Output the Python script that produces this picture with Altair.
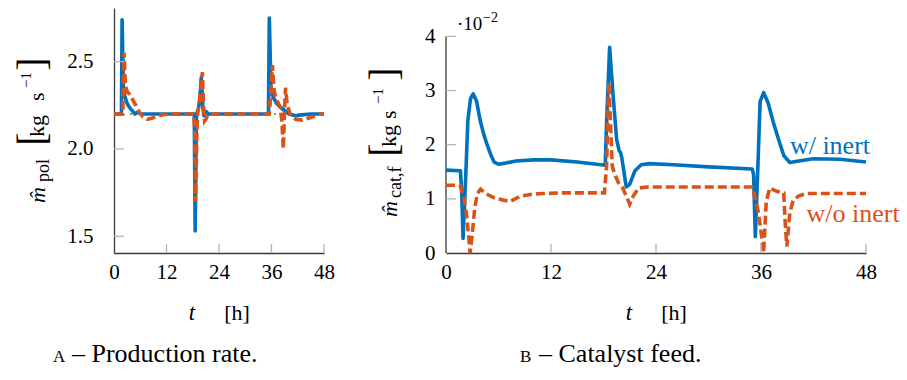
import altair as alt
import pandas as pd

FONT = "Liberation Serif"
BLUE = "#0072BD"
ORANGE = "#D95319"
GREEN = "#77AC30"
AXIS_COLOR = "#3a3a3a"
TICK_COLOR = "#b4b4b4"

# ---------------- panel A: production rate [kg/s] ----------------
pol_t_inert = [0, 1.7, 1.85, 2.15, 2.5, 3.0, 3.6, 4.3, 4.8, 5.4, 6.2, 18.35, 18.55,
               18.85, 19.3, 19.6, 19.95, 20.3, 20.55, 21.0, 21.6, 35.3, 35.5, 35.9,
               36.5, 37.2, 38.0, 39.0, 40.0, 41.5, 43.0, 45.0, 48.0]
pol_inert = [2.2, 2.2, 2.74, 2.34, 2.30, 2.26, 2.235, 2.215, 2.20, 2.21, 2.20, 2.2, 1.53,
             2.20, 2.23, 2.28, 2.41, 2.24, 2.19, 2.215, 2.20, 2.2, 2.75, 2.33,
             2.29, 2.26, 2.24, 2.22, 2.20, 2.19, 2.195, 2.2, 2.2]

pol_t_noinert = [0, 2.0, 2.3, 2.6, 3.0, 3.6, 4.3, 5.0, 5.8, 6.6, 7.6, 8.6, 10.0, 12.0,
                 18.3, 18.45, 18.65, 18.9, 19.1, 19.5, 19.9, 20.2, 20.45, 20.7, 21.0, 21.5,
                 35.5, 35.8, 36.2, 36.6, 37.2, 38.0, 38.4, 38.7, 38.95, 39.2, 39.6, 40.3,
                 41.5, 43.0, 45.0, 47.0, 48.0]
pol_noinert = [2.2, 2.2, 2.55, 2.36, 2.33, 2.31, 2.28, 2.25, 2.21, 2.185, 2.17, 2.175, 2.19, 2.2,
               2.2, 2.1, 1.70, 2.05, 2.2, 2.27, 2.36, 2.44, 2.25, 2.16, 2.17, 2.2,
               2.2, 2.3, 2.48, 2.33, 2.28, 2.24, 2.15, 2.0, 2.2, 2.35, 2.25, 2.2,
               2.17, 2.165, 2.18, 2.2, 2.2]

pol_setpoint = 2.2

# ---------------- panel B: catalyst feed [1e-2 kg/s] ----------------
cat_t_inert = [0, 1.65, 1.8, 1.95, 2.2, 2.5, 2.8, 3.1, 3.5, 3.9, 4.3, 4.7, 5.1, 5.5, 6.0,
               6.8, 8.0, 10.0, 12.0, 15.0, 18.2, 18.35, 18.7, 19.1, 19.5, 19.8, 19.95,
               20.1, 20.6, 21.0, 21.6, 22.3, 23.2, 26.0, 30.0, 35.0, 35.15, 35.35, 35.6,
               35.9, 36.3, 36.8, 37.4, 38.0, 38.6, 39.3, 40.3, 42.0, 45.0, 48.0]
cat_inert = [1.53, 1.52, 1.1, 0.27, 1.2, 2.45, 2.85, 2.94, 2.8, 2.45, 2.2, 2.0, 1.82, 1.68, 1.64,
             1.66, 1.70, 1.72, 1.72, 1.68, 1.62, 2.4, 3.8, 2.9, 2.1, 1.88, 1.86,
             1.75, 1.22, 1.27, 1.52, 1.63, 1.65, 1.63, 1.59, 1.55, 1.45, 0.3, 1.4,
             2.8, 2.96, 2.78, 2.42, 2.1, 1.8, 1.67, 1.70, 1.74, 1.73, 1.68]

cat_t_noinert = [0, 1.6, 1.8, 2.05, 2.35, 2.6, 2.75, 3.0, 3.3, 3.6, 3.95, 4.5, 5.5, 6.5, 7.3,
                 8.5, 10.0, 13.0, 18.1, 18.35, 18.6, 18.8, 19.0, 19.3, 19.7, 20.2, 20.6,
                 21.0, 21.4, 22.0, 23.0, 30.0, 35.0, 35.3, 35.7, 36.0, 36.3, 36.6, 37.0,
                 37.8, 38.6, 38.75, 38.95, 39.3, 39.7, 40.3, 41.2, 48.0]
cat_noinert = [1.25, 1.25, 1.15, 1.02, 0.7, 0.3, 0.0, 0.35, 0.85, 1.1, 1.18, 1.1, 1.02, 0.98, 0.95,
               1.05, 1.09, 1.11, 1.11, 1.6, 3.15, 2.4, 1.6, 1.45, 1.3, 1.2, 1.05,
               0.9, 1.05, 1.2, 1.22, 1.22, 1.22, 1.05, 0.75, 0.4, 0.0, 0.95, 1.2,
               1.14, 1.11, 0.6, 0.12, 0.75, 0.98, 1.05, 1.10, 1.10]

# legend labels placed next to the curves (hours, 1e-2 kg/s)
legend_labels = ["w/ inert", "w/o inert"]
legend_t = [39.3, 41.2]
legend_v = [1.83, 0.57]
legend_colors = [BLUE, ORANGE]

hour_ticks = [0, 12, 24, 36, 48]
pol_ticks = [1.5, 2.0, 2.5]
cat_ticks = [0, 1, 2, 3, 4]

# ---------------- layout ----------------
H = 245
W_A = 210
W_B = 420
TICK_FONT = 21
CAPTION_FONT = 26

x_scale = alt.Scale(domain=[0, 48], nice=False, zero=False)
yA_scale = alt.Scale(domain=[1.404, 2.807], nice=False, zero=False)
yB_scale = alt.Scale(domain=[0, 4.524], nice=False, zero=False)

X_AXIS = alt.Axis(values=hour_ticks, title=None, grid=False, ticks=False, tickSize=0,
                  domainColor=AXIS_COLOR, domainWidth=1.3, labelFont=FONT,
                  labelFontSize=TICK_FONT, labelColor="black", labelPadding=8,
                  labelFlush=False)


def y_axis(values, fmt, pad, show_domain):
    return alt.Axis(values=values, format=fmt, title=None, grid=False, ticks=False,
                    tickSize=0, domain=show_domain, domainColor=AXIS_COLOR,
                    domainWidth=1.3, labelFont=FONT, labelFontSize=TICK_FONT,
                    labelColor="black", labelPadding=pad)


YA_AXIS = y_axis(pol_ticks, ".1f", 21, True)
YB_AXIS = y_axis(cat_ticks, "d", 11, False)


def series(t, v, yscale, yaxis, **mark):
    df = pd.DataFrame({"t": t, "v": v, "idx": list(range(len(t)))})
    return alt.Chart(df).mark_line(**mark).encode(
        x=alt.X("t:Q", scale=x_scale, axis=X_AXIS),
        y=alt.Y("v:Q", scale=yscale, axis=yaxis),
        order="idx:Q",
    )


def text(s, x, y, size, align="left", angle=0, italic=False, color="black"):
    props = dict(align=align, baseline="alphabetic", font=FONT, fontSize=size,
                 color=color, angle=angle)
    if italic:
        props["fontStyle"] = "italic"
    return alt.Chart(pd.DataFrame({"s": [s]})).mark_text(**props).encode(
        text="s:N", x=alt.value(x), y=alt.value(y))


def x_tick_marks(values):
    return alt.Chart(pd.DataFrame({"t": values})).mark_rule(
        color=TICK_COLOR, strokeWidth=1.3).encode(
        x=alt.X("t:Q", scale=x_scale, axis=X_AXIS), y=alt.value(H), y2=alt.value(H - 9))


def y_tick_marks(values, yscale, yaxis):
    return alt.Chart(pd.DataFrame({"v": values})).mark_rule(
        color=TICK_COLOR, strokeWidth=1.3).encode(
        y=alt.Y("v:Q", scale=yscale, axis=yaxis), x=alt.value(0), x2=alt.value(10))


# ---------------- panel A ----------------
setpoint_line = series([0, 48], [pol_setpoint, pol_setpoint], yA_scale, YA_AXIS,
                       color=GREEN, strokeWidth=2.2, strokeDash=[2, 6])
pol_blue = series(pol_t_inert, pol_inert, yA_scale, YA_AXIS,
                  color=BLUE, strokeWidth=3.6, strokeJoin="round")
pol_orange = series(pol_t_noinert, pol_noinert, yA_scale, YA_AXIS,
                    color=ORANGE, strokeWidth=3.6, strokeDash=[9, 4])

# invisible anchor fixing the page origin relative to the plot area
anchor = alt.Chart(pd.DataFrame({"a": [0]})).mark_rule(opacity=0, strokeOpacity=0).encode(
    x=alt.value(-114), x2=alt.value(-114), y=alt.value(-8), y2=alt.value(-7))

titleA = [
    text("[", -69, 131, 40, align="center", angle=270),
    text("kg", -70, 129, 22, angle=270),
    text("s", -70, 93, 22, angle=270),
    text("\u22121", -83, 80, 15, angle=270),
    text("]", -69, 56, 40, align="center", angle=270),
    text("pol", -65, 174, 18, angle=270),
    text("m\u0302", -69, 195, 22, angle=270, italic=True),
]
xlabelA = [
    text("t", 78, 312, 23, align="center", italic=True),
    text("[h]", 123, 312, 22, align="center"),
]
captionA = [
    text("A", -61, 354, 17),
    text("\u2013 Production rate.", -42, 354, CAPTION_FONT),
]

panelA = alt.layer(
    setpoint_line, pol_blue, pol_orange,
    x_tick_marks(hour_ticks[1:]), y_tick_marks(pol_ticks, yA_scale, YA_AXIS),
    anchor, *titleA, *xlabelA, *captionA,
).properties(width=W_A, height=H)

# ---------------- panel B ----------------
cat_blue = series(cat_t_inert, cat_inert, yB_scale, YB_AXIS,
                  color=BLUE, strokeWidth=3.6, strokeJoin="round")
cat_orange = series(cat_t_noinert, cat_noinert, yB_scale, YB_AXIS,
                    color=ORANGE, strokeWidth=3.6, strokeDash=[9, 4])

y_axis_line = alt.Chart(pd.DataFrame({"lo": [cat_ticks[0]], "hi": [cat_ticks[-1]]})).mark_rule(
    color=AXIS_COLOR, strokeWidth=1.3).encode(
    x=alt.value(0), y=alt.Y("lo:Q", scale=yB_scale, axis=YB_AXIS), y2="hi:Q")

legend = alt.Chart(pd.DataFrame({"t": legend_t, "v": legend_v, "label": legend_labels,
                                 "c": legend_colors})).mark_text(
    align="left", baseline="alphabetic", font=FONT, fontSize=26).encode(
    x=alt.X("t:Q", scale=x_scale, axis=X_AXIS),
    y=alt.Y("v:Q", scale=yB_scale, axis=YB_AXIS),
    text="label:N",
    color=alt.Color("c:N", scale=None),
)

titleB = [
    text("[", -49, 142, 40, align="center", angle=270),
    text("kg", -50, 139, 22, angle=270),
    text("s", -50, 111, 22, angle=270),
    text("\u22121", -63, 96, 15, angle=270),
    text("]", -49, 66, 40, align="center", angle=270),
    text("cat,f", -45, 190, 18, angle=270),
    text("m\u0302", -49, 209, 22, angle=270, italic=True),
    text("\u00b710", 11, 22, 19),
    text("\u22122", 37, 14, 14),
]
xlabelB = [
    text("t", 183, 312, 23, align="center", italic=True),
    text("[h]", 228, 312, 22, align="center"),
]
captionB = [
    text("B", 74, 354, 17),
    text("\u2013 Catalyst feed.", 93, 354, CAPTION_FONT),
]

panelB = alt.layer(
    y_axis_line, cat_blue, cat_orange,
    x_tick_marks(hour_ticks[1:]), y_tick_marks(cat_ticks[1:], yB_scale, YB_AXIS),
    legend, *titleB, *xlabelB, *captionB,
).properties(width=W_B, height=H)

chart = alt.hconcat(panelA, panelB, spacing=122, bounds="flush").resolve_scale(
    x="independent", y="independent"
).properties(padding=0).configure_view(strokeWidth=0)

chart.save("out.html", embed_options={"renderer": "svg", "actions": False})
